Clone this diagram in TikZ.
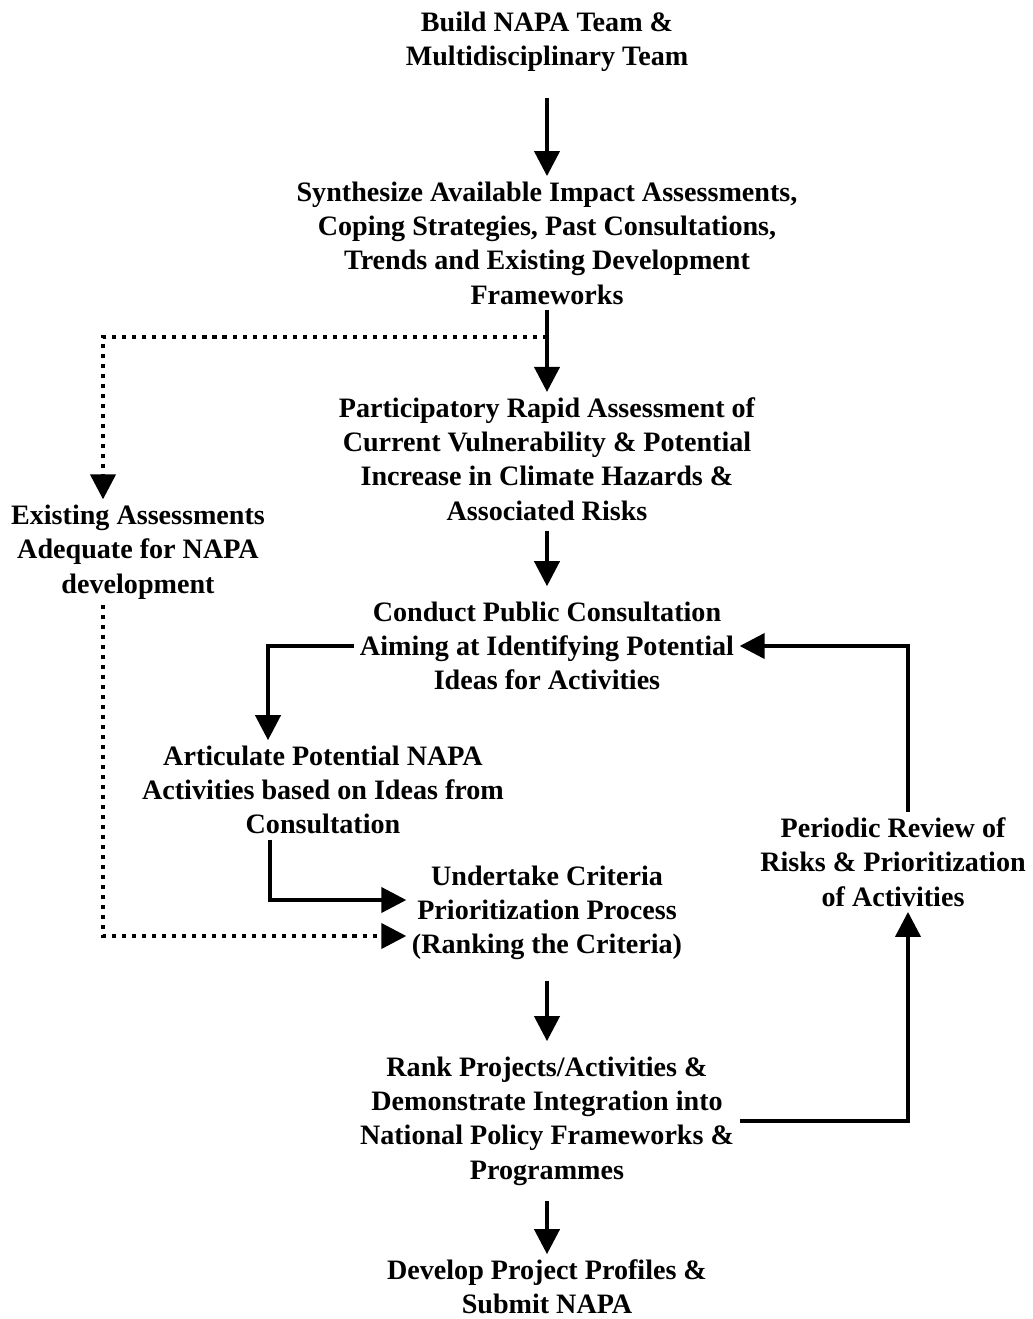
\documentclass[tikz,border=0pt]{standalone}
\usepackage{fontspec}
\setmainfont{Liberation Serif}
\usetikzlibrary{arrows.meta, positioning}

\tikzset{
  stage/.style={align=center, font=\bfseries\fontsize{16}{19.5}\selectfont, inner sep=3pt},
  flow/.style={-{Triangle[length=0.5cm,width=0.5cm]}, line width=2.3pt},
  maybe/.style={flow, dash pattern=on 2.3pt off 3.4pt},
}

\begin{document}
\begin{tikzpicture}[x=0.02cm, y=-0.02cm]
    \useasboundingbox (0,0) rectangle (1032,1319);
    % steps of the process
    \node[stage] (team) at (547,42) {Build NAPA Team \&\\Multidisciplinary Team};
    \node[stage] (synth) at (547,243) {Synthesize Available Impact Assessments,\\Coping Strategies, Past Consultations,\\Trends and Existing Development\\Frameworks};
    \node[stage] (rapid) at (547,459) {Participatory Rapid Assessment of\\Current Vulnerability \& Potential\\Increase in Climate Hazards \&\\Associated Risks};
    \node[stage] (exist) at (138,552) {Existing Assessments\\Adequate for NAPA\\development};
    \node[stage] (consult) at (547,646) {Conduct Public Consultation\\Aiming at Identifying Potential\\Ideas for Activities};
    \node[stage] (artic) at (323,790) {Articulate Potential NAPA\\Activities based on Ideas from\\Consultation};
    \node[stage] (criteria) at (547,913) {Undertake Criteria\\Prioritization Process\\(Ranking the Criteria)};
    \node[stage] (review) at (893,862) {Periodic Review of\\Risks \& Prioritization\\of Activities};
    \node[stage] (rank) at (547,1121) {Rank Projects/Activities \&\\Demonstrate Integration into\\National Policy Frameworks \&\\Programmes};
    \node[stage] (profile) at (547,1287) {Develop Project Profiles \&\\Submit NAPA};

    % main line
    \draw[flow, shorten <=0.4cm] (team) -- (synth);
    \draw[flow] (synth) -- (rapid);
    \draw[flow, shorten <=0.1cm, shorten >=0.2cm] (rapid) -- (consult);
    \draw[flow] (consult.west) -| ([xshift=-1.1cm]artic.north);
    \draw[flow] ([xshift=-1.06cm]artic.south) |- ([yshift=0.26cm]criteria.west);
    \draw[flow, shorten <=0.3cm, shorten >=0.2cm] (criteria) -- (rank);
    \draw[flow, shorten <=0.2cm] (rank) -- (profile);

    % feedback loop
    \draw[flow] (rank.east) -| ([xshift=0.3cm]review.south);
    \draw[flow] ([xshift=0.3cm]review.north) |- (consult.east);

    % shortcut when assessments exist
    \draw[maybe] ([yshift=-0.54cm]synth.south) -| ([xshift=-0.7cm]exist.north);
    \draw[maybe] ([xshift=-0.7cm]exist.south) |- ([yshift=-0.46cm]criteria.west);
\end{tikzpicture}
\end{document}
